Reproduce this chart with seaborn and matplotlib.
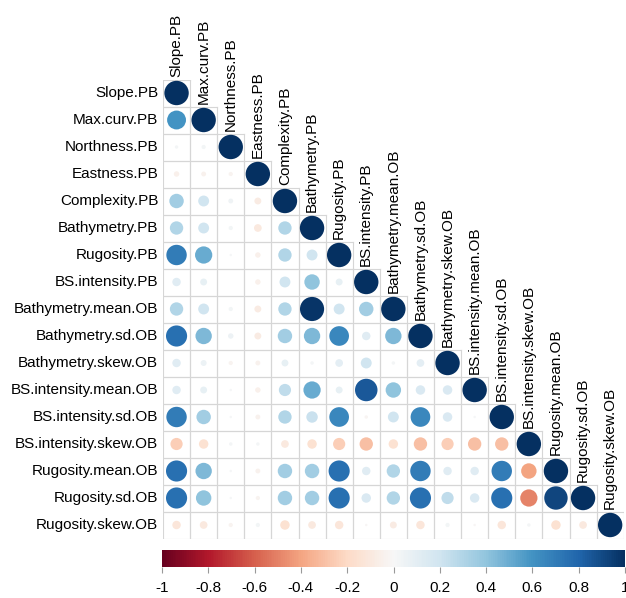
import numpy as np
import pandas as pd
import matplotlib
matplotlib.use("Agg")
import matplotlib.pyplot as plt
import seaborn as sns

variables = [
    "Slope.PB", "Max.curv.PB", "Northness.PB", "Eastness.PB", "Complexity.PB",
    "Bathymetry.PB", "Rugosity.PB", "BS.intensity.PB", "Bathymetry.mean.OB",
    "Bathymetry.sd.OB", "Bathymetry.skew.OB", "BS.intensity.mean.OB",
    "BS.intensity.sd.OB", "BS.intensity.skew.OB", "Rugosity.mean.OB",
    "Rugosity.sd.OB", "Rugosity.skew.OB",
]

# Lower-triangle correlations, one list per row (diagonal added below)
r_slope = []
r_maxcurv = [0.60]
r_northness = [0.02, 0.03]
r_eastness = [-0.05, -0.04, -0.03]
r_complexity = [0.35, 0.20, 0.04, -0.08]
r_bathy = [0.30, 0.20, 0.03, -0.10, 0.30]
r_rugosity = [0.70, 0.50, 0.01, -0.05, 0.30, 0.20]
r_bsint = [0.12, 0.08, 0.00, -0.05, 0.20, 0.40, 0.08]
r_bathy_mean = [0.30, 0.20, 0.03, -0.08, 0.30, 0.98, 0.20, 0.35]
r_bathy_sd = [0.75, 0.45, 0.05, -0.08, 0.35, 0.45, 0.65, 0.12, 0.45]
r_bathy_skew = [0.12, 0.06, -0.03, -0.04, 0.08, 0.02, 0.10, 0.20, 0.02, 0.10]
r_bs_mean = [0.12, 0.08, 0.01, -0.05, 0.25, 0.50, 0.08, 0.85, 0.40, 0.15, 0.15]
r_bs_sd = [0.70, 0.35, 0.01, -0.04, 0.30, 0.22, 0.65, -0.02, 0.20, 0.65, 0.15, 0.01]
r_bs_skew = [-0.25, -0.15, 0.02, 0.02, -0.10, -0.15, -0.25, -0.30, -0.15, -0.30,
             -0.25, -0.30, -0.30]
r_rug_mean = [0.75, 0.45, 0.01, -0.04, 0.35, 0.35, 0.75, 0.12, 0.30, 0.70, 0.12,
              0.12, 0.70, -0.40]
r_rug_sd = [0.75, 0.40, 0.01, -0.03, 0.35, 0.35, 0.75, 0.15, 0.30, 0.75, 0.25,
            0.15, 0.75, -0.50, 0.92]
r_rug_skew = [-0.12, -0.10, -0.03, 0.03, -0.15, -0.10, -0.12, -0.01, -0.08, -0.12,
              0.03, -0.01, -0.12, 0.02, -0.15, -0.10]

rows = [r_slope, r_maxcurv, r_northness, r_eastness, r_complexity, r_bathy,
        r_rugosity, r_bsint, r_bathy_mean, r_bathy_sd, r_bathy_skew, r_bs_mean,
        r_bs_sd, r_bs_skew, r_rug_mean, r_rug_sd, r_rug_skew]

colorbar_ticks = [-1, -0.8, -0.6, -0.4, -0.2, 0, 0.2, 0.4, 0.6, 0.8, 1]

n = len(variables)
records = []
for i, vals in enumerate(rows):
    for j, v in enumerate(list(vals) + [1.0]):
        records.append({"row": i, "col": j, "r": v, "absr": abs(v)})
df = pd.DataFrame(records)

plt.rcParams["font.family"] = ["Liberation Sans", "DejaVu Sans"]

W, H, DPI = 626, 598, 100
fig = plt.figure(figsize=(W / DPI, H / DPI), dpi=DPI)

left_px, top_px, cell_w, cell_h = 163, 79.5, 27.1, 27.0
ax = fig.add_axes([left_px / W, 1 - (top_px + n * cell_h) / H,
                   n * cell_w / W, n * cell_h / H])

# circle area proportional to |r|; full-size circle spans 0.9 of a cell
max_diam_pt = 0.9 * cell_w * 72 / DPI
sns.scatterplot(data=df, x="col", y="row", hue="r", palette="RdBu",
                hue_norm=(-1, 1), size="absr", sizes=(0, max_diam_pt ** 2),
                size_norm=(0, 1), linewidth=0, legend=False, ax=ax, zorder=3)

# light grid around the lower-triangle cells
grid_kw = dict(color="#d6d6d6", lw=0.8, zorder=1)
for i in range(n):
    ax.plot([-0.5, i + 0.5], [i - 0.5, i - 0.5], **grid_kw)
    ax.plot([-0.5, i + 0.5], [i + 0.5, i + 0.5], **grid_kw)
    ax.plot([i - 0.5, i - 0.5], [i - 0.5, n - 0.5], **grid_kw)
    ax.plot([i + 0.5, i + 0.5], [i - 0.5, n - 0.5], **grid_kw)

ax.set_xlim(-0.5, n - 0.5)
ax.set_ylim(n - 0.5, -0.5)
ax.set_axis_off()

fs = 11
for i, name in enumerate(variables):
    ax.annotate(name, xy=(-0.5, i), xytext=(-3.5, 0), textcoords="offset points",
                ha="right", va="center", fontsize=fs, color="black",
                annotation_clip=False)
    ax.annotate(name, xy=(i, i - 0.5), xytext=(0, 2), textcoords="offset points",
                ha="center", va="bottom", rotation=90, fontsize=fs,
                color="black", annotation_clip=False)

# horizontal colour key
cax = fig.add_axes([162 / W, 1 - 567 / H, 463 / W, 17 / H])
sm = matplotlib.cm.ScalarMappable(norm=matplotlib.colors.Normalize(-1, 1),
                                  cmap="RdBu")
cb = fig.colorbar(sm, cax=cax, orientation="horizontal")
cb.outline.set_visible(False)
cb.set_ticks(colorbar_ticks)
cb.set_ticklabels([f"{t:g}" for t in colorbar_ticks])
cax.tick_params(axis="x", length=4, width=0.8, color="#999999",
                labelsize=fs, pad=6, labelcolor="black")

fig.savefig("out.png", dpi=DPI, facecolor="white")
